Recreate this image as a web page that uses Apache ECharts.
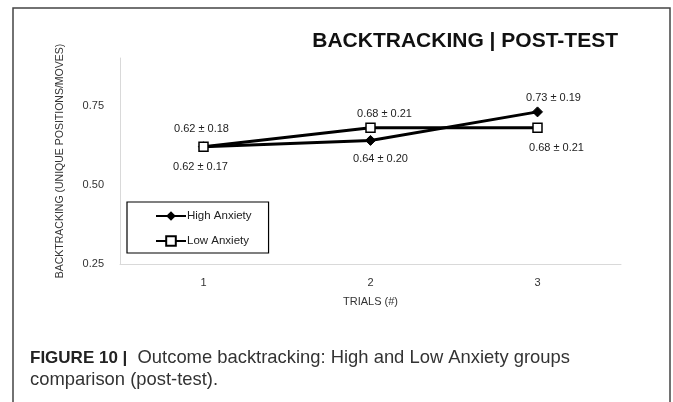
<!DOCTYPE html>
<html lang="en">

<head>
    <meta charset="UTF-8">
    <title>Backtracking | Post-test</title>
    <script src="https://cdn.jsdelivr.net/npm/echarts@6/dist/echarts.min.js"></script>
    <style>
        html, body {
            margin: 0;
            padding: 0;
            background: #fff;
        }

        #chart {
            width: 673px;
            height: 402px;
        }
    </style>
</head>

<body>
    <div id="chart"></div>
    <script>
        var trials = ['1', '2', '3']
        var highAnxiety = [0.62, 0.64, 0.73]
        var highAnxietySd = [0.17, 0.20, 0.19]
        var lowAnxiety = [0.62, 0.68, 0.68]
        var lowAnxietySd = [0.18, 0.21, 0.21]
        var yTicks = [0.25, 0.50, 0.75]

        var font = "'Liberation Sans', Arial, sans-serif"

        // where each value label sits, relative to its point
        var highOffsets = [[-3, 20], [10, 19], [16, -14]]
        var lowOffsets = [[-2, -18], [14, -14], [19, 20]]

        function points(values, sds, offsets) {
            return values.map(function (v, i) {
                return {
                    value: v,
                    sd: sds[i],
                    label: { offset: offsets[i] }
                }
            })
        }

        var valueLabel = {
            show: true,
            position: 'inside',
            fontFamily: font,
            fontSize: 11,
            color: '#222',
            formatter: function (p) {
                return p.value.toFixed(2) + ' ± ' + p.data.sd.toFixed(2)
            }
        }

        var chart = echarts.init(document.getElementById('chart'))
        chart.setOption({
            animation: false,
            backgroundColor: '#fff',
            title: {
                text: 'BACKTRACKING | POST-TEST',
                right: 50,
                top: 26,
                textStyle: {
                    fontFamily: font,
                    fontSize: 21,
                    fontWeight: 'bold',
                    color: '#111'
                }
            },
            grid: {
                left: 120,
                right: 52,
                top: 58,
                bottom: 138
            },
            legend: {
                orient: 'vertical',
                left: 127,
                top: 202,
                padding: [8, 17, 6, 28],
                itemGap: 13,
                itemWidth: 30,
                itemHeight: 12,
                borderColor: '#000',
                borderWidth: 1.2,
                backgroundColor: '#fff',
                textStyle: {
                    fontFamily: font,
                    fontSize: 11.5,
                    color: '#222',
                    padding: [0, 0, 0, -4]
                },
                data: ['High Anxiety', 'Low Anxiety']
            },
            xAxis: {
                type: 'category',
                data: trials,
                name: 'TRIALS (#)',
                nameLocation: 'middle',
                nameGap: 32,
                nameTextStyle: { fontFamily: font, fontSize: 11, color: '#333' },
                axisLine: { lineStyle: { color: '#d9d9d9', width: 1 } },
                axisTick: { show: false },
                axisLabel: { fontFamily: font, fontSize: 11, color: '#333', margin: 13 }
            },
            yAxis: {
                type: 'value',
                min: 0.25,
                max: 0.9,
                interval: 0.25,
                name: 'BACKTRACKING (UNIQUE POSITIONS/MOVES)',
                nameLocation: 'middle',
                nameGap: 54,
                nameTextStyle: { fontFamily: font, fontSize: 10.5, color: '#333' },
                axisLine: { show: true, lineStyle: { color: '#d9d9d9', width: 1 } },
                axisTick: { show: false },
                splitLine: { show: false },
                axisLabel: {
                    fontFamily: font,
                    fontSize: 11,
                    color: '#333',
                    margin: 16,
                    showMaxLabel: false,
                    formatter: function (v) {
                        return yTicks.indexOf(v) >= 0 ? v.toFixed(2) : ''
                    }
                }
            },
            series: [
                {
                    name: 'High Anxiety',
                    type: 'line',
                    data: points(highAnxiety, highAnxietySd, highOffsets),
                    symbol: 'diamond',
                    symbolSize: 10,
                    lineStyle: { color: '#000', width: 3 },
                    itemStyle: { color: '#000', borderColor: '#000' },
                    label: valueLabel
                },
                {
                    name: 'Low Anxiety',
                    type: 'line',
                    data: points(lowAnxiety, lowAnxietySd, lowOffsets),
                    symbol: 'rect',
                    symbolSize: 9,
                    lineStyle: { color: '#000', width: 3 },
                    itemStyle: { color: '#fff', borderColor: '#000', borderWidth: 1.5 },
                    label: valueLabel
                }
            ],
            graphic: [
                {
                    type: 'rect',
                    silent: true,
                    shape: { x: 13, y: 8, width: 657, height: 420 },
                    style: { fill: 'none', stroke: '#444', lineWidth: 1.5 }
                },
                {
                    type: 'text',
                    left: 30,
                    top: 347,
                    style: {
                        text: '{b|FIGURE 10 |}  Outcome backtracking: High and Low Anxiety groups\ncomparison (post-test).',
                        fontFamily: font,
                        fontSize: 18.4,
                        lineHeight: 22,
                        fill: '#333',
                        rich: {
                            b: {
                                fontFamily: font,
                                fontSize: 17,
                                fontWeight: 'bold',
                                fill: '#222'
                            }
                        }
                    }
                }
            ]
        })
    </script>
</body>

</html>
